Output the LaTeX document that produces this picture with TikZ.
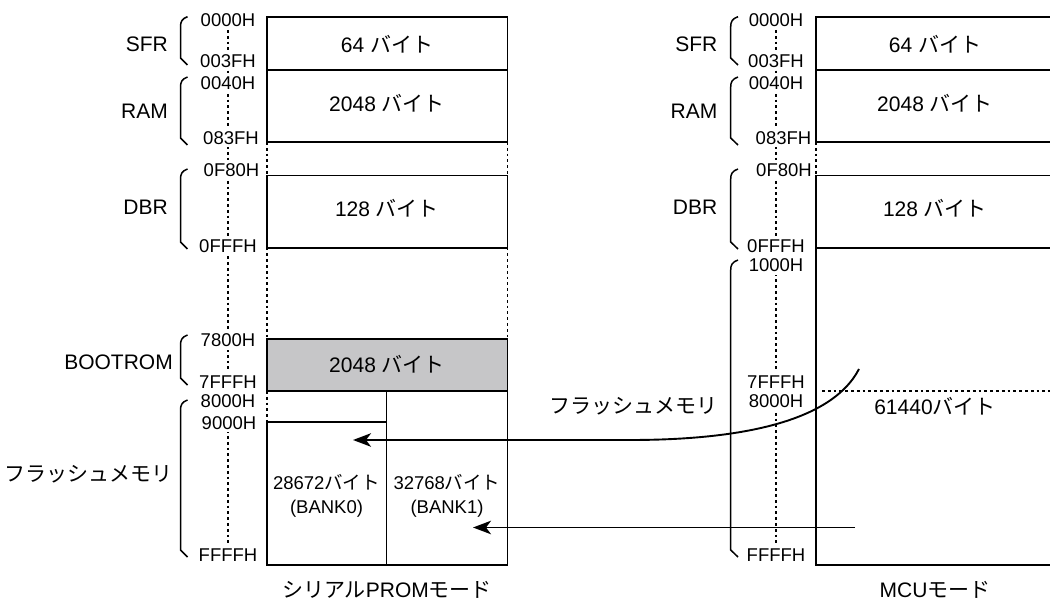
\documentclass[tikz,border=0pt]{standalone}
\usepackage{fontspec}
\setmainfont{Liberation Sans}
\newfontfamily\jpfont{Noto Sans CJK JP}
\usetikzlibrary{arrows.meta}
\newcommand{\byt}{{\jpfont バイト}}
\newcommand{\membrace}[4]{\draw[bracel] (#2,#3) .. controls (#1+1.5,#3+2) and (#1,#3+5) .. (#1,#3+10) -- (#1,#4-7) -- (#2,#4);}
\definecolor{bootgray}{RGB}{198,198,200}
\begin{document}
\begin{tikzpicture}[x=1pt,y=-1pt,
  boxline/.style={line width=1.8pt},
  dotline/.style={line width=1.6pt, dash pattern=on 2.8pt off 3pt},
  bracel/.style={line width=1.5pt},
  arrowline/.style={line width=1.9pt, -{Stealth[length=18pt,width=13.5pt,inset=5pt]}},
  addr/.style={font=\fontsize{18.5}{20}\selectfont, fill=white, inner xsep=1pt, inner ysep=3pt, text height=13.3pt, text depth=0pt},
  lbl/.style={font=\fontsize{21}{24}\selectfont, inner sep=0pt, text height=15pt, text depth=0pt, anchor=east},
  memtxt/.style={font=\fontsize{21}{24}\selectfont, inner sep=0pt, text height=15pt, text depth=0pt},
  smalltxt/.style={font=\fontsize{18.5}{23.5}\selectfont, inner sep=0pt, align=center}
]
\useasboundingbox (0,0) rectangle (1050,601);
\clip (0,0) rectangle (1050,601);

% ---------- left map (serial PROM mode) ----------
\draw[dotline] (228,30) -- (228,545);
\draw[boxline] (267,17) rectangle (507.5,142);
\draw[boxline] (267,70) -- (507.5,70);
\draw[dotline] (267,142) -- (267,175.5) (507.5,142) -- (507.5,175.5);
\draw[boxline] (267,175.5) rectangle (507.5,247.7);
\draw[dotline] (267,247.7) -- (267,339) (507.5,247.7) -- (507.5,339);
\filldraw[boxline, fill=bootgray] (267,339) rectangle (507.5,391);
\draw[dotline] (267,391) -- (267,422);
\draw[boxline] (267,422) -- (267,565) -- (507.5,565) -- (507.5,391);
\draw[boxline] (386.5,391) -- (386.5,565);
\draw[boxline] (267,422) -- (386.5,422);

\node[addr] (l0000) at (228,19.5) {0000H};
\node[addr] (l003f) at (228,60.5) {003FH};
\node[addr] (l0040) at (228,82.5) {0040H};
\node[addr] (l083f) at (231,137.5) {083FH};
\node[addr] (l0f80) at (231.5,170) {0F80H};
\node[addr] (l0fff) at (228,246) {0FFFH};
\node[addr] (l7800) at (228,340) {7800H};
\node[addr] (l7fff) at (228,382) {7FFFH};
\node[addr] (l8000) at (228,401) {8000H};
\node[addr] (l9000) at (229,422.5) {9000H};
\node[addr] (lffff) at (228,555) {FFFFH};

\membrace{180.5}{187.5}{16.7}{65}
\membrace{180.5}{187.5}{77}{145}
\membrace{180.5}{187.5}{169}{249}
\membrace{180.5}{187.5}{335}{385}
\membrace{180.5}{187.5}{400}{557}

\node[lbl] (lsfr) at (168,44) {SFR};
\node[lbl] (lram) at (168,111) {RAM};
\node[lbl] (ldbr) at (168,207) {DBR};
\node[lbl] (lboot) at (173,362) {BOOTROM};
\node[lbl] (lflash) at (173,474) {\jpfont フラッシュメモリ};

\node[memtxt] (lt1) at (387,45) {64 \byt};
\node[memtxt] (lt2) at (387,104.5) {2048 \byt};
\node[memtxt] (lt3) at (387,209) {128 \byt};
\node[memtxt] (lt4) at (387,365.5) {2048 \byt};
\node[smalltxt] (lb0) at (326.5,496) {28672\byt\\(BANK0)};
\node[smalltxt] (lb1) at (447,496) {32768\byt\\(BANK1)};
\node[memtxt] (lcap) at (387,590) {{\jpfont シリアル}PROM{\jpfont モード}};

% ---------- right map (MCU mode) ----------
\draw[dotline] (776,30) -- (776,545);
\draw[boxline] (1056,17) -- (816,17) -- (816,142) -- (1056,142);
\draw[boxline] (816,70) -- (1056,70);
\draw[dotline] (816,142) -- (816,175.5);
\draw[boxline] (1056,175.5) -- (816,175.5) -- (816,565) -- (1056,565);
\draw[boxline] (816,247.7) -- (1056,247.7);
\draw[dotline] (822,391) -- (1056,391);

\node[addr] (r0000) at (776,19.5) {0000H};
\node[addr] (r003f) at (776,60.5) {003FH};
\node[addr] (r0040) at (776,82.5) {0040H};
\node[addr] (r083f) at (783.5,137.5) {083FH};
\node[addr] (r0f80) at (784,170) {0F80H};
\node[addr] (r0fff) at (776,246) {0FFFH};
\node[addr] (r1000) at (776,265) {1000H};
\node[addr] (r7fff) at (776,381.7) {7FFFH};
\node[addr] (r8000) at (776,401) {8000H};
\node[addr] (rffff) at (776,555) {FFFFH};

\membrace{730.7}{738}{16.7}{65}
\membrace{730.7}{738}{77}{145}
\membrace{730.7}{738}{169}{249}
\membrace{730.7}{738}{260}{557}

\node[lbl] (rsfr) at (717.5,44) {SFR};
\node[lbl] (rram) at (717.5,111) {RAM};
\node[lbl] (rdbr) at (717.5,207) {DBR};
\node[lbl] (rflash) at (717.5,406.5) {\jpfont フラッシュメモリ};

\node[memtxt] (rt1) at (935,45) {64 \byt};
\node[memtxt] (rt2) at (935,104.5) {2048 \byt};
\node[memtxt] (rt3) at (935,209) {128 \byt};
\node[memtxt] (rt4) at (935,407) {61440\byt};
\node[memtxt] (rcap) at (935,590) {MCU{\jpfont モード}};

% ---------- arrows ----------
\coordinate (a1s) at (859,369);
\coordinate (a1b) at (630,440);
\coordinate (a1t) at (353,440);
\coordinate (a2s) at (855,527.5);
\coordinate (a2t) at (473,527.5);
\draw[arrowline] (a1s) .. controls (830,425) and (730,440) .. (a1b) -- (a1t);
\draw[arrowline] (a2s) -- (a2t);
\end{tikzpicture}
\end{document}
